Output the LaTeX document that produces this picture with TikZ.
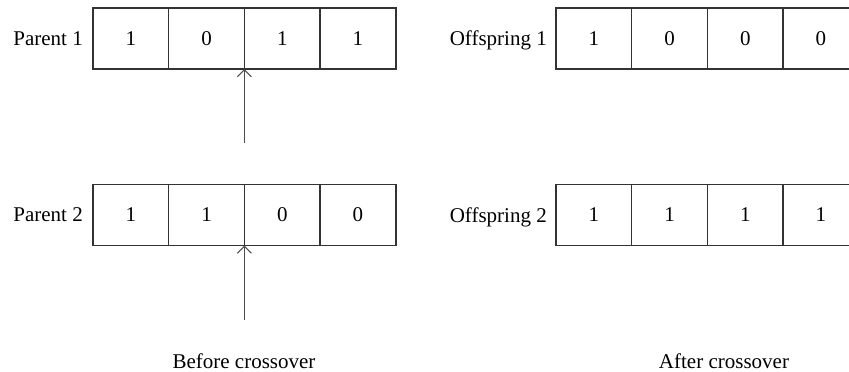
\documentclass[tikz,border=0pt]{standalone}
\usepackage{fontspec}
\setmainfont{Liberation Serif}
\usetikzlibrary{positioning,arrows.meta}

\tikzset{
  cell/.style={draw=black!80, line width=1.4pt, minimum width=75.7pt, minimum height=61pt, inner sep=0pt, outer sep=0pt},
  rowname/.style={inner sep=0pt, text depth=0pt},
  cut/.style={draw=black!70, line width=1pt}
}

\begin{document}
\begin{tikzpicture}[x=1pt, y=-1pt, node distance=75.7pt, font=\fontsize{21}{25}\selectfont, >={Straight Barb[length=7pt,width=14pt]}]
    \useasboundingbox (0,0) rectangle (849,372);
    % parent 1
    \node(p11) [cell] at (130.85,38.5) {1};
    \node(p12) [cell, right of=p11] {0};
    \node(p13) [cell, right of=p12] {1};
    \node(p14) [cell, right of=p13] {1};
    \node(pn1) [rowname, left=10pt of p11] {Parent 1};

    % parent 2
    \node(p21) [cell] at (130.85,215) {1};
    \node(p22) [cell, right of=p21] {1};
    \node(p23) [cell, right of=p22] {0};
    \node(p24) [cell, right of=p23] {0};
    \node(pn2) [rowname, left=10pt of p21] {Parent 2};

    % offspring 1
    \node(o11) [cell] at (593.85,38.5) {1};
    \node(o12) [cell, right of=o11] {0};
    \node(o13) [cell, right of=o12] {0};
    \node(o14) [cell, right of=o13] {0};
    \node(on1) [rowname, left=9pt of o11] {Offspring 1};

    % offspring 2
    \node(o21) [cell] at (593.85,215) {1};
    \node(o22) [cell, right of=o21] {1};
    \node(o23) [cell, right of=o22] {1};
    \node(o24) [cell, right of=o23] {1};
    \node(on2) [rowname, left=9pt of o21] {Offspring 2};

    % crossover points
    \coordinate(c1) at (244.4,143);
    \coordinate(c2) at (244.4,320);
    \draw [->][cut] (c1) to (p12.south east);
    \draw [->][cut] (c2) to (p22.south east);

    % captions
    \node(before) at (244,361) {Before crossover};
    \node(after)  at (724,361) {After crossover};
\end{tikzpicture}
\end{document}
